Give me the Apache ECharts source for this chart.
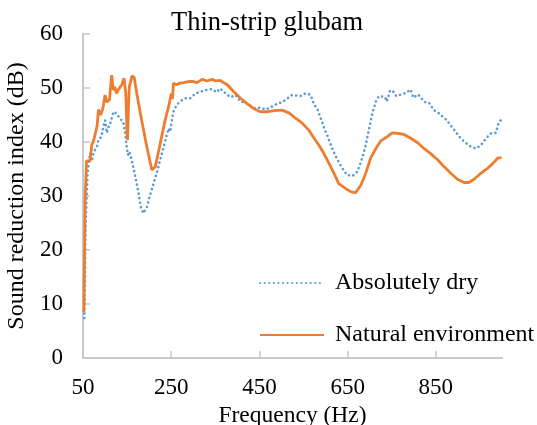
<!DOCTYPE html>
<html>
<head>
<meta charset="utf-8">
<script src="https://cdn.jsdelivr.net/npm/echarts@6/dist/echarts.min.js"></script>
<style>
html,body{margin:0;padding:0;background:#fff;}
#chart{width:537px;height:425px;}
</style>
</head>
<body>
<div id="chart"></div>
<script>
var chartTitle = 'Thin-strip glubam';
var xTickValues = [50, 250, 450, 650, 850];
var seriesNames = ['Absolutely dry', 'Natural environment'];

var dryFreq = [53,56,60,62,66,70,74,77,81,85,88,92,96,100,104,108,112,115,119,126,133,141,145,149,152,155,158,164,170,176,181,187,195,202,210,219,229,239,244,248,251,255,262,270,282,293,305,316,327,343,353,360,370,377,385,396,407,418,430,441,452,464,475,486,498,509,524,543,551,559,566,574,581,589,596,605,615,627,638,649,661,672,683,691,698,706,714,721,730,735,739,746,752,760,768,782,793,799,810,817,827,834,846,857,870,880,892,903,914,930,941,952,964,975,986,992,999];
var dryValues = [7.4,25,33.6,35.4,37.9,36.5,38,38.5,39,40.4,40.5,41,42.8,44,41.7,42.8,43.5,44.4,45.6,45.3,44.4,43.8,42,39.1,37.6,38.2,37.4,35.4,33,30.5,28,26.8,28,30.2,32.3,34.8,37.9,41,42.5,41.9,43.8,45.6,46.8,47.5,48.1,48.1,49,49.3,49.6,49.8,49.2,49.9,49.3,48.7,48.3,48.7,47.5,47.3,46.7,46.2,46.4,46,46.4,46.9,47.3,47.8,48.7,48.5,48.9,49,48.7,46.9,46.2,44.4,42.8,41,38.8,36.7,35.1,33.9,33.7,34.5,37,39.4,42.2,45.3,47.5,48.5,48.4,48.3,47.5,49.5,49.5,48.5,48.7,49.1,49.7,48.2,48.8,48.1,47.3,47.3,45.9,45.3,44.4,43.5,42.2,41,40.1,39.1,38.8,39.4,40.7,41.6,41.7,43.5,44.2];

var naturalFreq = [52,55,58,62,66,70,74,78,82,85,90,95,100,104,110,115,119,122,126,131,138,143,147,150,151,153,155,161,166,172,183,195,206,214,225,236,244,250,253,255,262,270,278,289,300,308,320,331,343,350,361,377,392,407,422,437,452,467,483,501,517,532,547,562,574,585,596,608,619,630,645,657,668,680,691,702,714,725,740,751,763,778,793,808,823,839,854,869,884,899,914,925,937,952,967,979,990,999];
var naturalValues = [8.5,30,36.5,36.8,36.5,39.5,40.2,40,43,46,45,46.2,48.7,47.4,47.8,52.4,49.6,50.2,49,49.8,50.6,51.8,49,41.5,40.4,46,50.2,52.2,52,49,44,39,34.8,35.4,39.7,44,46.5,49,48,50.9,50.6,50.9,51,51.2,51.2,51,51.6,51.3,51.6,51.3,51.4,50.6,49.3,48.1,47.1,46.2,45.6,45.6,45.8,45.9,45.4,44.4,43.5,42.2,40.7,39.4,37.9,36,34.2,32.3,31.4,30.8,30.6,32,34.2,37,38.8,40.2,41,41.7,41.6,41.4,40.7,39.9,38.8,37.8,36.7,35.4,34.2,33.1,32.5,32.5,33.1,34.2,35.1,36,37,37.1];

function pairs(xs, ys) {
  var out = [];
  for (var i = 0; i < xs.length; i++) out.push([xs[i], ys[i]]);
  return out;
}

var FONT = 'Liberation Serif';
var axisColor = '#c8c8c8';
var chart = echarts.init(document.getElementById('chart'), null, {renderer: 'canvas'});
chart.setOption({
  animation: false,
  backgroundColor: '#ffffff',
  title: {
    text: chartTitle,
    left: 262, top: 5, textAlign: 'center',
    textStyle: {fontFamily: FONT, fontSize: 26.5, fontWeight: 'normal', color: '#000'}
  },
  grid: {left: 83, right: 35, top: 34, bottom: 67, outerBoundsMode: 'none', containLabel: false},
  legend: {
    orient: 'vertical',
    left: 259, top: 271, padding: 0,
    itemWidth: 64, itemHeight: 12, itemGap: 28,
    data: seriesNames,
    itemStyle: {opacity: 0},
    textStyle: {fontFamily: FONT, fontSize: 24, color: '#000', padding: [0, 0, 0, 6]}
  },
  xAxis: {
    type: 'value', min: 50, max: 1000, interval: 200,
    name: 'Frequency (Hz)', nameLocation: 'middle', nameGap: 43,
    nameTextStyle: {fontFamily: FONT, fontSize: 23.5, color: '#000'},
    axisLine: {lineStyle: {color: axisColor, width: 2}},
    axisTick: {show: true, inside: true, length: 7, lineStyle: {color: axisColor, width: 1.5}, customValues: xTickValues},
    axisLabel: {fontFamily: FONT, fontSize: 23, color: '#000', margin: 18, customValues: xTickValues},
    splitLine: {show: false}
  },
  yAxis: {
    type: 'value', min: 0, max: 60, interval: 10,
    name: 'Sound reduction index (dB)', nameLocation: 'middle', nameGap: 50,
    nameTextStyle: {fontFamily: FONT, fontSize: 24, color: '#000'},
    axisLine: {show: true, lineStyle: {color: axisColor, width: 2}},
    axisTick: {show: true, inside: true, length: 7, lineStyle: {color: axisColor, width: 1.5}},
    axisLabel: {fontFamily: FONT, fontSize: 23, color: '#000', margin: 20},
    splitLine: {show: false}
  },
  series: [
    {
      name: seriesNames[0], type: 'line', data: pairs(dryFreq, dryValues),
      symbol: 'none', showSymbol: false,
      lineStyle: {color: '#5B9BD5', width: 2.6, type: [0.1, 4.5], cap: 'round'},
      itemStyle: {color: '#5B9BD5'}, z: 2
    },
    {
      name: seriesNames[1], type: 'line', data: pairs(naturalFreq, naturalValues),
      symbol: 'none', showSymbol: false,
      lineStyle: {color: '#ED7D31', width: 2.8},
      itemStyle: {color: '#ED7D31'}, z: 3
    }
  ]
});
</script>
</body>
</html>
